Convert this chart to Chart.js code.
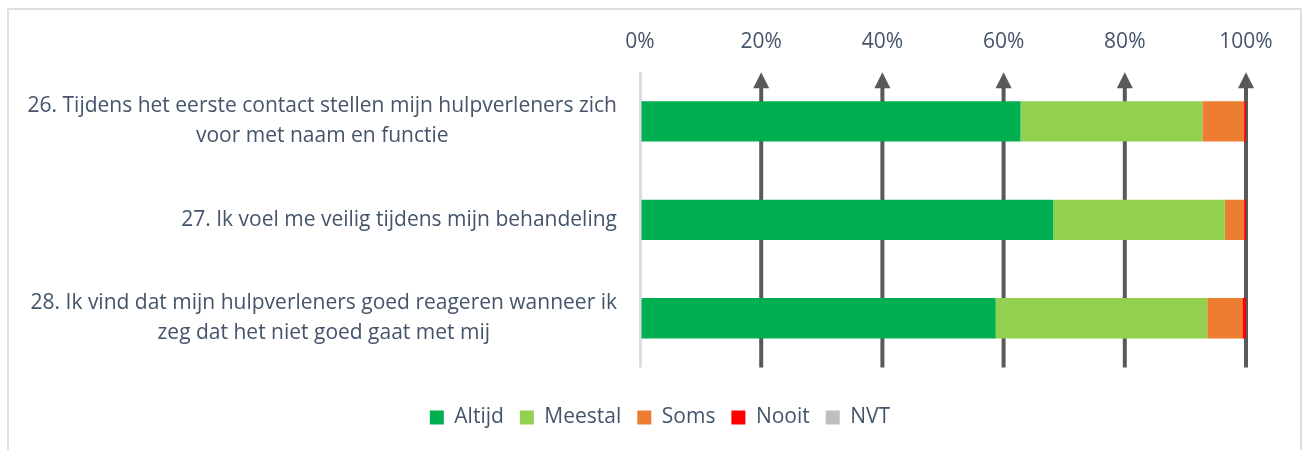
<!DOCTYPE html>
<html>
<head>
<meta charset="utf-8">
<script src="https://cdn.jsdelivr.net/npm/chart.js@4"></script>
<style>
  html, body { margin: 0; padding: 0; background: #fff; overflow: hidden; }
  #wrap { position: relative; width: 1306px; height: 450px; }
  #frame { position: absolute; left: 7px; top: 8px; width: 1291px; height: 460px; border: 2px solid #dde1e7; box-sizing: content-box; pointer-events: none; }
  canvas { position: absolute; left: 0; top: 0; }
</style>
</head>
<body>
<div id="wrap">
  <canvas id="chart" width="1306" height="450"></canvas>
  <div id="frame"></div>
</div>
<script>
// questions (y categories), split into the lines they are shown with
const categories = ['26', '27', '28'];
const labelLines = [
  ['26. Tijdens het eerste contact stellen mijn hulpverleners zich', 'voor met naam en functie'],
  ['27. Ik voel me veilig tijdens mijn behandeling'],
  ['28. Ik vind dat mijn hulpverleners goed reageren wanneer ik', 'zeg dat het niet goed gaat met mij']
];

// answer shares in %
const altijd  = [62.8, 68.2, 58.7];
const meestal = [30.0, 28.3, 34.9];
const soms    = [6.9, 3.2, 5.8];
const nooit   = [0.3, 0.3, 0.6];
const nvt     = [0, 0, 0];

const xTicks = [0, 20, 40, 60, 80, 100];

const textColor = '#44546a';
const fontFamily = '"Open Sans", Lato, sans-serif';
const fontSize = 21;

// grid lines for 20%..100% are drawn as arrows pointing up
const arrowGrid = {
  id: 'arrowGrid',
  beforeDatasetsDraw(chart) {
    const { ctx, chartArea, scales } = chart;
    const x = scales.x;
    ctx.save();
    ctx.fillStyle = '#595959';
    ctx.strokeStyle = '#595959';
    ctx.lineWidth = 4;
    xTicks.forEach(v => {
      if (v === 0) return;
      const px = x.getPixelForValue(v);
      ctx.beginPath();
      ctx.moveTo(px, chartArea.top + 14);
      ctx.lineTo(px, chartArea.bottom);
      ctx.stroke();
      ctx.beginPath();
      ctx.moveTo(px, chartArea.top);
      ctx.lineTo(px - 8, chartArea.top + 16);
      ctx.lineTo(px + 8, chartArea.top + 16);
      ctx.closePath();
      ctx.fill();
    });
    ctx.restore();
  }
};

// category labels: block right aligned, lines centred inside the block
const questionLabels = {
  id: 'questionLabels',
  afterDraw(chart) {
    const { ctx, scales } = chart;
    const y = scales.y;
    const right = 617;
    const lineH = 30;
    ctx.save();
    ctx.font = fontSize + 'px ' + fontFamily;
    ctx.fillStyle = textColor;
    ctx.textAlign = 'center';
    ctx.textBaseline = 'middle';
    labelLines.forEach((lines, i) => {
      const cy = y.getPixelForValue(i);
      const w = Math.max(...lines.map(l => ctx.measureText(l).width));
      const cx = right - w / 2;
      lines.forEach((l, j) => {
        ctx.fillText(l, cx, cy + (j - (lines.length - 1) / 2) * lineH);
      });
    });
    ctx.restore();
  }
};

const ctx = document.getElementById('chart').getContext('2d');
new Chart(ctx, {
  type: 'bar',
  data: {
    labels: categories,
    datasets: [
      { label: 'Altijd', data: altijd, backgroundColor: '#00b050' },
      { label: 'Meestal', data: meestal, backgroundColor: '#92d050' },
      { label: 'Soms', data: soms, backgroundColor: '#ed7d31' },
      { label: 'Nooit', data: nooit, backgroundColor: '#ff0000' },
      { label: 'NVT', data: nvt, backgroundColor: '#bfbfbf' }
    ]
  },
  options: {
    indexAxis: 'y',
    responsive: false,
    animation: false,
    datasets: {
      bar: { barPercentage: 0.41, categoryPercentage: 1, borderWidth: 0 }
    },
    layout: { padding: { left: 74, right: 60, top: 11, bottom: 12 } },
    scales: {
      x: {
        position: 'top',
        stacked: true,
        min: 0,
        max: 100,
        afterBuildTicks(scale) {
          scale.ticks = xTicks.map(v => ({ value: v }));
        },
        ticks: {
          padding: 18,
          color: textColor,
          font: { family: fontFamily, size: fontSize },
          callback: v => v + '%'
        },
        grid: {
          drawTicks: false,
          color: c => (c.tick && c.tick.value === 0 ? '#d9dee6' : 'rgba(0,0,0,0)'),
          lineWidth: 3
        },
        border: { display: false }
      },
      y: {
        stacked: true,
        ticks: { display: false },
        grid: { display: false },
        border: { display: false },
        afterFit(scale) {
          scale.width = 566;
        }
      }
    },
    plugins: {
      tooltip: { enabled: false },
      legend: {
        position: 'bottom',
        title: { display: true, text: '', font: { size: 10 }, padding: { top: 11.5, bottom: 0 } },
        labels: {
          boxWidth: 14,
          boxHeight: 14,
          padding: 16,
          color: textColor,
          font: { family: fontFamily, size: fontSize }
        }
      }
    }
  },
  plugins: [arrowGrid, questionLabels]
});
</script>
</body>
</html>
